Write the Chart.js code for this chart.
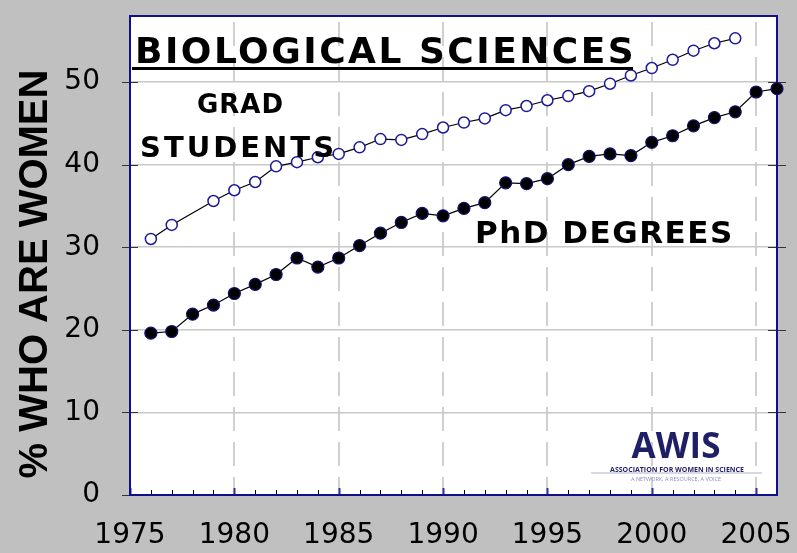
<!DOCTYPE html>
<html>
<head>
<meta charset="utf-8">
<script src="https://cdn.jsdelivr.net/npm/chart.js@4"></script>
<style>
  html, body { margin: 0; padding: 0; background: #c0c0c0; }
  #wrap { width: 797px; height: 553px; }
</style>
</head>
<body>
<div id="wrap"><canvas id="canvas" width="797" height="553"></canvas></div>
<script>
let ctx = document.getElementById("canvas").getContext("2d")

// years and percent of women
years = [1976, 1977, 1978, 1979, 1980, 1981, 1982, 1983, 1984, 1985, 1986, 1987, 1988, 1989, 1990,
         1991, 1992, 1993, 1994, 1995, 1996, 1997, 1998, 1999, 2000, 2001, 2002, 2003, 2004, 2005, 2006]
gradStudents = [31.0, 32.7, null, 35.6, 36.9, 37.9, 39.8, 40.3, 40.9, 41.3, 42.1, 43.1, 43.0, 43.7, 44.5,
                45.1, 45.6, 46.6, 47.1, 47.8, 48.3, 48.9, 49.8, 50.8, 51.7, 52.7, 53.8, 54.7, 55.3, null, null]
phdDegrees = [19.6, 19.8, 21.9, 23.0, 24.4, 25.5, 26.7, 28.7, 27.6, 28.7, 30.2, 31.7, 33.0, 34.1, 33.8,
              34.7, 35.4, 37.8, 37.7, 38.3, 40.0, 41.0, 41.3, 41.1, 42.7, 43.5, 44.7, 45.7, 46.4, 48.8, 49.2]
xTicks = [1975, 1980, 1985, 1990, 1995, 2000, 2005]
yTicks = [0, 10, 20, 30, 40, 50]

const navy = "#10108a"

// no extra room for the end labels, the plot box is fixed
function noPadding(s) {
    s.paddingTop = 0
    s.paddingBottom = 0
    s.paddingLeft = 0
    s.paddingRight = 0
}

// frame, small tick marks and the hand-written labels
const decorations = {
    id: "decorations",
    beforeDraw(chart) {
        const c = chart.ctx, a = chart.chartArea
        c.save()
        c.fillStyle = "#ffffff"
        c.fillRect(a.left, a.top, a.right - a.left, a.bottom - a.top)
        c.restore()
    },
    beforeDatasetsDraw(chart) {
        const c = chart.ctx, a = chart.chartArea
        const xs = chart.scales.x, ys = chart.scales.y
        c.save()
        // year ticks along the bottom
        for (let yr = 1975; yr <= 2006; yr++) {
            const px = Math.round(xs.getPixelForValue(yr)) + 0.5
            const major = yr % 5 == 0
            c.strokeStyle = major ? "#3030a0" : "#000"
            c.lineWidth = major ? 2 : 1
            c.beginPath()
            c.moveTo(px, a.bottom)
            c.lineTo(px, a.bottom - (major ? 7 : 5))
            c.stroke()
        }
        // y ticks on both sides, crossing the frame
        c.strokeStyle = "#333"
        c.lineWidth = 1
        yTicks.forEach(v => {
            const py = Math.round(ys.getPixelForValue(v)) + 0.5
            c.beginPath()
            c.moveTo(a.left - 8, py)
            c.lineTo(a.left + 8, py)
            if (v > 0) {
                c.moveTo(a.right - 9, py)
                c.lineTo(a.right + 9, py)
            }
            c.stroke()
        })
        // frame
        c.strokeStyle = navy
        c.lineWidth = 2
        c.strokeRect(a.left, a.top, a.right - a.left, a.bottom - a.top)
        c.restore()
    },
    afterDatasetsDraw(chart) {
        const c = chart.ctx
        c.save()
        c.fillStyle = "#000"
        c.textAlign = "left"
        c.textBaseline = "alphabetic"

        c.font = "bold 36px 'DejaVu Sans'"
        c.letterSpacing = "2.5px"
        c.fillText("BIOLOGICAL SCIENCES", 135, 63)
        c.fillRect(132, 67, 501, 3)

        c.font = "bold 26px 'DejaVu Sans'"
        c.letterSpacing = "1px"
        c.fillText("GRAD", 197, 113)
        c.font = "bold 29px 'DejaVu Sans'"
        c.letterSpacing = "3px"
        c.fillText("STUDENTS", 140, 157)
        c.font = "bold 31px 'DejaVu Sans'"
        c.letterSpacing = "1.5px"
        c.fillText("PhD DEGREES", 475, 243)

        // y axis title
        c.letterSpacing = "0px"
        c.save()
        c.translate(47, 274)
        c.rotate(-Math.PI / 2)
        c.textAlign = "center"
        c.font = "bold 40px 'Liberation Sans'"
        c.fillText("% WHO ARE WOMEN", 0, 0)
        c.restore()

        // AWIS logo
        c.textAlign = "center"
        c.fillStyle = "#1f1f66"
        c.font = "bold 35px 'Open Sans'"
        c.fillText("AWIS", 676, 458)
        c.font = "bold 7px 'Open Sans'"
        c.fillText("ASSOCIATION FOR WOMEN IN SCIENCE", 677, 471.5)
        c.fillStyle = "#b0b0cc"
        c.fillRect(591, 472.5, 171, 1)
        c.fillStyle = "#8c8cc0"
        c.font = "5.5px 'Open Sans'"
        c.fillText("A NETWORK, A RESOURCE, A VOICE", 676, 480.5)
        c.restore()
    }
}

const config = {
    type: "line",
    data: {
        datasets: [
            {
                label: "Grad students",
                data: years.map((yr, i) => ({x: yr, y: gradStudents[i]})),
                borderColor: "#000",
                borderWidth: 1.2,
                pointRadius: 5.5,
                pointBackgroundColor: "#fff",
                pointBorderColor: "#1a1a9a",
                pointBorderWidth: 1.5,
                spanGaps: true,
                clip: false,
            },
            {
                label: "PhD degrees",
                data: years.map((yr, i) => ({x: yr, y: phdDegrees[i]})),
                borderColor: "#000",
                borderWidth: 1.2,
                pointRadius: 6,
                pointBackgroundColor: "#000",
                pointBorderColor: "#101070",
                pointBorderWidth: 1.2,
                clip: false,
            }
        ]
    },
    options: {
        responsive: false,
        animation: false,
        layout: { padding: { left: 0, top: 16, right: 20, bottom: 0 } },
        plugins: {
            legend: { display: false },
            tooltip: { enabled: false },
        },
        scales: {
            x: {
                type: "linear",
                min: 1975,
                max: 2006,
                afterBuildTicks: s => { s.ticks = xTicks.map(v => ({value: v})) },
                afterFit: s => { s.height = 58; noPadding(s) },
                grid: {
                    drawTicks: false,
                    lineWidth: 2,
                    color: c => c.tick && c.tick.value == 1975 ? "rgba(0,0,0,0)" : "#d0d0d0",
                },
                border: { display: false, dash: [24, 11], dashOffset: 29 },
                ticks: {
                    color: "#000",
                    padding: 24,
                    maxRotation: 0,
                    font: { family: "'DejaVu Sans'", size: 28 },
                    callback: v => String(v),
                },
            },
            y: {
                min: 0,
                max: 58,
                afterBuildTicks: s => { s.ticks = yTicks.map(v => ({value: v})) },
                afterFit: s => { s.width = 130; noPadding(s) },
                grid: {
                    drawTicks: false,
                    lineWidth: 1.5,
                    color: c => c.tick && c.tick.value == 0 ? "rgba(0,0,0,0)" : "#c8c8c8",
                },
                border: { display: false },
                ticks: {
                    color: "#000",
                    padding: 30,
                    font: { family: "'DejaVu Sans'", size: 28 },
                },
            }
        },
    },
    plugins: [decorations],
}

let chart = new Chart(ctx, config)
</script>
</body>
</html>
